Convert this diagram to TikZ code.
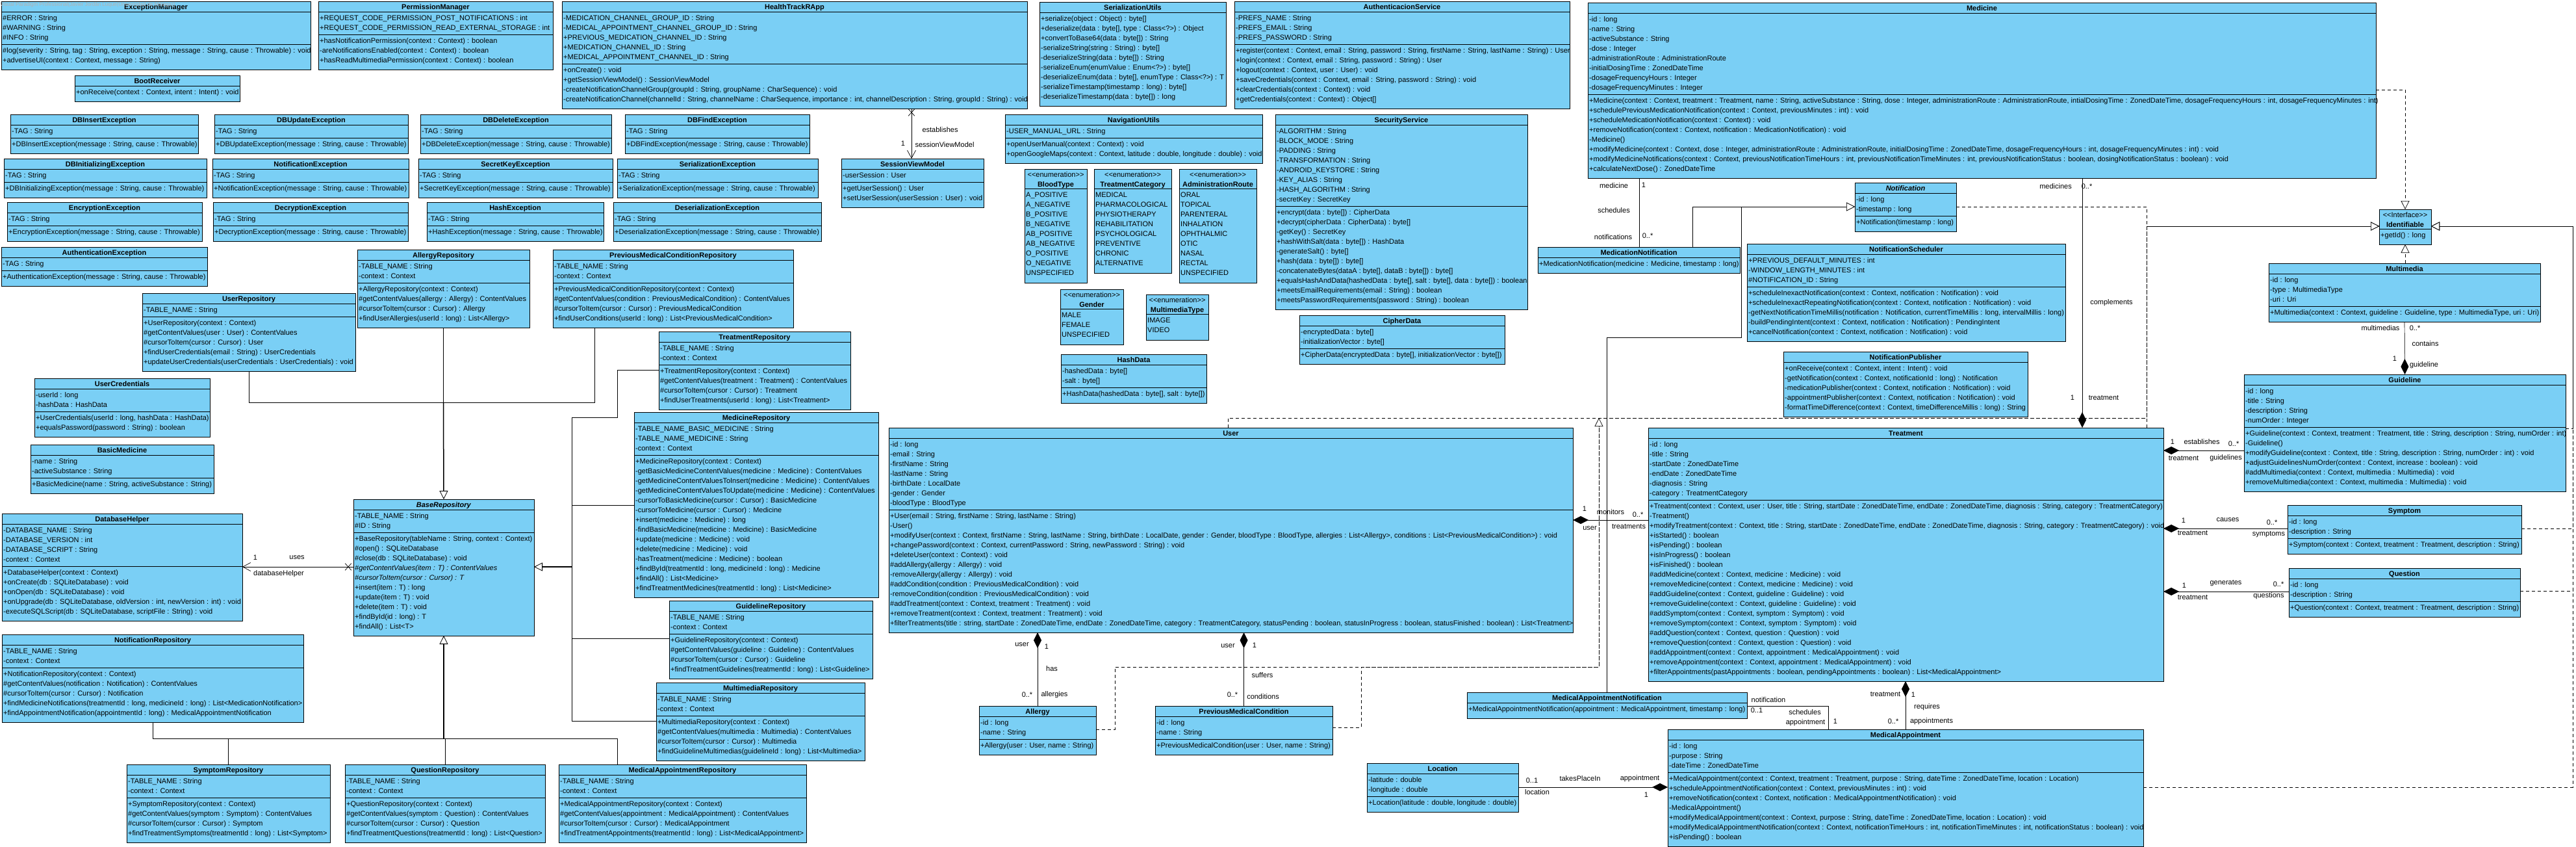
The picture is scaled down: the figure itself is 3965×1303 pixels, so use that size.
\documentclass[tikz,border=0pt]{standalone}
\usepackage{fontspec}
\setmainfont{Liberation Sans}
\usetikzlibrary{arrows.meta,calc,shapes.misc}
\definecolor{classfill}{RGB}{122,207,245}

% [title height]{name}{x,y}{width}{#attributes}{#operations}{title}{attributes}{operations}
\newcommand{\umlclass}[9][16]{%
  \pgfmathtruncatemacro{\clsnA}{#5}%
  \pgfmathtruncatemacro{\clsnM}{#6}%
  \pgfmathtruncatemacro{\clshA}{\clsnA==0 ? 0 : (\clsnM==0 ? \clsnA*15+10 : \clsnA*15+5)}%
  \pgfmathtruncatemacro{\clshM}{\clsnM==0 ? 0 : \clsnM*15+9}%
  \pgfmathtruncatemacro{\clshAll}{#1+\clshA+\clshM}%
  \node[classbox, minimum width=#4, minimum height=\clshAll, anchor=north west] (#2) at (#3) {};
  \node[classtitle, anchor=north] (#2-t) at ($(#2.north)+(0,1.5)$) {\rule{0pt}{10.5pt}#7};
  \draw[classline] ($(#2.north west)+(0,#1)$) -- ($(#2.north east)+(0,#1)$);
  \ifnum\clsnA>0
    \node[classtext, anchor=north west] (#2-a) at ($(#2.north west)+(2,#1+3)$) {\rule{0pt}{10.5pt}#8};
    \ifnum\clsnM>0
      \draw[classline] ($(#2.north west)+(0,#1+\clshA)$) -- ($(#2.north east)+(0,#1+\clshA)$);
    \fi
  \fi
  \ifnum\clsnM>0
    \node[classtext, anchor=north west] (#2-m) at ($(#2.north west)+(2,#1+\clshA+3)$) {\rule{0pt}{10.5pt}#9};
  \fi
}
\newcommand{\umlexc}[3]{\umlclass{#1}{#2}{#3}{1}{1}{#1}{-TAG : String}{+#1(message : String, cause : Throwable)}}
\newcommand{\stereo}[1]{{\mdseries <{}<#1>{}>}}

\begin{document}
\begin{tikzpicture}[x=1pt, y=-1pt,
  classbox/.style={rectangle, draw, fill=classfill, line width=0.8pt, inner sep=0pt, outer sep=0pt},
  classline/.style={line width=0.8pt},
  classtitle/.style={inner sep=0pt, align=center, font=\fontsize{11}{15}\selectfont\bfseries},
  classtext/.style={inner sep=0pt, align=left, font=\fontsize{11}{15}\selectfont},
  lbl/.style={inner sep=0pt, font=\fontsize{11}{13}\selectfont},
  link/.style={line width=0.7pt},
  gen/.style={link, -{Triangle[length=13pt, width=13pt, fill=white]}},
  trunk/.style={line width=1.5pt, -{Triangle[length=13pt, width=13pt, fill=white, line width=0.8pt]}},
  real/.style={gen, dash pattern=on 5pt off 4pt},
  compo/.style={link, -{Diamond[length=24pt, width=12pt]}},
  navig/.style={link, -{Straight Barb[length=12pt, width=13pt]}},
  xmark/.style={cross out, draw, line width=0.7pt, minimum width=9pt, minimum height=10pt, inner sep=0pt}]

\fill[white] (0,0) rectangle (3965,1303);
\useasboundingbox (0,0) rectangle (3965,1303);

% top row
\umlclass{ExceptionManager}{2,2}{476}{3}{2}{ExceptionManager}
  {\#ERROR : String\\\#WARNING : String\\\#INFO : String}
  {\#log(severity : String, tag : String, exception : String, message : String, cause : Throwable) : void\\+advertiseUI(context : Context, message : String)}
\umlclass{PermissionManager}{490,2}{361}{2}{3}{PermissionManager}
  {+REQUEST\_CODE\_PERMISSION\_POST\_NOTIFICATIONS : int\\+REQUEST\_CODE\_PERMISSION\_READ\_EXTERNAL\_STORAGE : int}
  {+hasNotificationPermission(context : Context) : boolean\\-areNotificationsEnabled(context : Context) : boolean\\+hasReadMultimediaPermission(context : Context) : boolean}
\umlclass{HealthTrackRApp}{865,2}{716}{5}{4}{HealthTrackRApp}
  {-MEDICATION\_CHANNEL\_GROUP\_ID : String\\-MEDICAL\_APPOINTMENT\_CHANNEL\_GROUP\_ID : String\\+PREVIOUS\_MEDICATION\_CHANNEL\_ID : String\\+MEDICATION\_CHANNEL\_ID : String\\+MEDICAL\_APPOINTMENT\_CHANNEL\_ID : String}
  {+onCreate() : void\\+getSessionViewModel() : SessionViewModel\\-createNotificationChannelGroup(groupId : String, groupName : CharSequence) : void\\-createNotificationChannel(channelId : String, channelName : CharSequence, importance : int, channelDescription : String, groupId : String) : void}
\umlclass{SerializationUtils}{1600,3}{287}{0}{9}{SerializationUtils}{}
  {+serialize(object : Object) : byte[]\\+deserialize(data : byte[], type : Class<?>) : Object\\+convertToBase64(data : byte[]) : String\\-serializeString(string : String) : byte[]\\-deserializeString(data : byte[]) : String\\-serializeEnum(enumValue : Enum<?>) : byte[]\\-deserializeEnum(data : byte[], enumType : Class<?>) : T\\-serializeTimestamp(timestamp : long) : byte[]\\-deserializeTimestamp(data : byte[]) : long}
\umlclass{AuthenticacionService}{1900,2}{516}{3}{6}{AuthenticacionService}
  {-PREFS\_NAME : String\\-PREFS\_EMAIL : String\\-PREFS\_PASSWORD : String}
  {+register(context : Context, email : String, password : String, firstName : String, lastName : String) : User\\+login(context : Context, email : String, password : String) : User\\+logout(context : Context, user : User) : void\\+saveCredentials(context : Context, email : String, password : String) : void\\+clearCredentials(context : Context) : void\\+getCredentials(context : Context) : Object[]}
\umlclass{Medicine}{2444,4}{1213}{8}{8}{Medicine}
  {-id : long\\-name : String\\-activeSubstance : String\\-dose : Integer\\-administrationRoute : AdministrationRoute\\-initialDosingTime : ZonedDateTime\\-dosageFrequencyHours : Integer\\-dosageFrequencyMinutes : Integer}
  {+Medicine(context : Context, treatment : Treatment, name : String, activeSubstance : String, dose : Integer, administrationRoute : AdministrationRoute, intialDosingTime : ZonedDateTime, dosageFrequencyHours : int, dosageFrequencyMinutes : int)\\+schedulePreviousMedicationNotification(context : Context, previousMinutes : int) : void\\+scheduleMedicationNotification(context : Context) : void\\+removeNotification(context : Context, notification : MedicationNotification) : void\\-Medicine()\\+modifyMedicine(context : Context, dose : Integer, administrationRoute : AdministrationRoute, initialDosingTime : ZonedDateTime, dosageFrequencyHours : int, dosageFrequencyMinutes : int) : void\\+modifyMedicineNotifications(context : Context, previousNotificationTimeHours : int, previousNotificationTimeMinutes : int, previousNotificationStatus : boolean, dosingNotificationStatus : boolean) : void\\+calculateNextDose() : ZonedDateTime}
\umlclass{BootReceiver}{115,116}{254}{0}{1}{BootReceiver}{}
  {+onReceive(context : Context, intent : Intent) : void}

% exceptions
\umlexc{DBInsertException}{16,176}{289}
\umlexc{DBUpdateException}{330,176}{298}
\umlexc{DBDeleteException}{647,176}{294}
\umlexc{DBFindException}{962,176}{284}
\umlexc{DBInitializingException}{6,244}{312}
\umlexc{NotificationException}{327,244}{302}
\umlexc{SecretKeyException}{644,244}{299}
\umlexc{SerializationException}{950,244}{309}
\umlexc{EncryptionException}{11,311}{300}
\umlexc{DecryptionException}{328,311}{300}
\umlexc{HashException}{657,311}{272}
\umlexc{DeserializationException}{944,311}{320}
\umlexc{AuthenticationException}{2,380}{317}

\umlclass{SessionViewModel}{1295,244}{219}{1}{2}{SessionViewModel}
  {-userSession : User}
  {+getUserSession() : User\\+setUserSession(userSession : User) : void}
\umlclass{NavigationUtils}{1547,176}{396}{1}{2}{NavigationUtils}
  {-USER\_MANUAL\_URL : String}
  {+openUserManual(context : Context) : void\\+openGoogleMaps(context : Context, latitude : double, longitude : double) : void}
\umlclass[30]{BloodType}{1577,260}{96}{9}{0}{\stereo{enumeration}\\BloodType}
  {A\_POSITIVE\\A\_NEGATIVE\\B\_POSITIVE\\B\_NEGATIVE\\AB\_POSITIVE\\AB\_NEGATIVE\\O\_POSITIVE\\O\_NEGATIVE\\UNSPECIFIED}{}
\umlclass[30]{TreatmentCategory}{1684,260}{119}{8}{0}{\stereo{enumeration}\\TreatmentCategory}
  {MEDICAL\\PHARMACOLOGICAL\\PHYSIOTHERAPY\\REHABILITATION\\PSYCHOLOGICAL\\PREVENTIVE\\CHRONIC\\ALTERNATIVE}{}
\umlclass[30]{AdministrationRoute}{1815,260}{119}{9}{0}{\stereo{enumeration}\\AdministrationRoute}
  {ORAL\\TOPICAL\\PARENTERAL\\INHALATION\\OPHTHALMIC\\OTIC\\NASAL\\RECTAL\\UNSPECIFIED}{}
\umlclass[30]{Gender}{1632,445}{97}{3}{0}{\stereo{enumeration}\\Gender}
  {MALE\\FEMALE\\UNSPECIFIED}{}
\umlclass[30]{MultimediaType}{1764,453}{96}{2}{0}{\stereo{enumeration}\\MultimediaType}
  {IMAGE\\VIDEO}{}
\umlclass{HashData}{1633,545}{224}{2}{1}{HashData}
  {-hashedData : byte[]\\-salt : byte[]}
  {+HashData(hashedData : byte[], salt : byte[])}
\umlclass{SecurityService}{1963,176}{388}{8}{10}{SecurityService}
  {-ALGORITHM : String\\-BLOCK\_MODE : String\\-PADDING : String\\-TRANSFORMATION : String\\-ANDROID\_KEYSTORE : String\\-KEY\_ALIAS : String\\-HASH\_ALGORITHM : String\\-secretKey : SecretKey}
  {+encrypt(data : byte[]) : CipherData\\+decrypt(cipherData : CipherData) : byte[]\\-getKey() : SecretKey\\+hashWithSalt(data : byte[]) : HashData\\-generateSalt() : byte[]\\+hash(data : byte[]) : byte[]\\-concatenateBytes(dataA : byte[], dataB : byte[]) : byte[]\\+equalsHashAndData(hashedData : byte[], salt : byte[], data : byte[]) : boolean\\+meetsEmailRequirements(email : String) : boolean\\+meetsPasswordRequirements(password : String) : boolean}
\umlclass{CipherData}{2000,485}{316}{2}{1}{CipherData}
  {-encryptedData : byte[]\\-initializationVector : byte[]}
  {+CipherData(encryptedData : byte[], initializationVector : byte[])}

% notifications
\umlclass{Notification}{2855,281}{156}{2}{1}{\textit{Notification}}
  {-id : long\\-timestamp : long}
  {+Notification(timestamp : long)}
\umlclass{MedicationNotification}{2367,380}{311}{0}{1}{MedicationNotification}{}
  {+MedicationNotification(medicine : Medicine, timestamp : long)}
\umlclass{NotificationScheduler}{2689,375}{490}{3}{5}{NotificationScheduler}
  {+PREVIOUS\_DEFAULT\_MINUTES : int\\-WINDOW\_LENGTH\_MINUTES : int\\\#NOTIFICATION\_ID : String}
  {+scheduleInexactNotification(context : Context, notification : Notification) : void\\+scheduleInexactRepeatingNotification(context : Context, notification : Notification) : void\\-getNextNotificationTimeMillis(notification : Notification, currentTimeMillis : long, intervalMillis : long)\\-buildPendingIntent(context : Context, notification : Notification) : PendingIntent\\+cancelNotification(context : Context, notification : Notification) : void}
\umlclass{NotificationPublisher}{2745,541}{376}{0}{5}{NotificationPublisher}{}
  {+onReceive(context : Context, intent : Intent) : void\\-getNotification(context : Context, notificationId : long) : Notification\\-medicationPublisher(context : Context, notification : Notification) : void\\-appointmentPublisher(context : Context, notification : Notification) : void\\-formatTimeDifference(context : Context, timeDifferenceMillis : long) : String}
\umlclass[30]{Identifiable}{3662,322}{80}{0}{1}{\stereo{Interface}\\Identifiable}{}
  {+getId() : long}
\umlclass{Multimedia}{3492,405}{418}{3}{1}{Multimedia}
  {-id : long\\-type : MultimediaType\\-uri : Uri}
  {+Multimedia(context : Context, guideline : Guideline, type : MultimediaType, uri : Uri)}

% repositories
\umlclass{AllergyRepository}{550,384}{265}{2}{4}{AllergyRepository}
  {-TABLE\_NAME : String\\-context : Context}
  {+AllergyRepository(context : Context)\\\#getContentValues(allergy : Allergy) : ContentValues\\\#cursorToItem(cursor : Cursor) : Allergy\\+findUserAllergies(userId : long) : List<Allergy>}
\umlclass{PreviousMedicalConditionRepository}{851,384}{370}{2}{4}{PreviousMedicalConditionRepository}
  {-TABLE\_NAME : String\\-context : Context}
  {+PreviousMedicalConditionRepository(context : Context)\\\#getContentValues(condition : PreviousMedicalCondition) : ContentValues\\\#cursorToItem(cursor : Cursor) : PreviousMedicalCondition\\+findUserConditions(userId : long) : List<PreviousMedicalCondition>}
\umlclass{UserRepository}{219,451}{328}{1}{5}{UserRepository}
  {-TABLE\_NAME : String}
  {+UserRepository(context : Context)\\\#getContentValues(user : User) : ContentValues\\\#cursorToItem(cursor : Cursor) : User\\+findUserCredentials(email : String) : UserCredentials\\+updateUserCredentials(userCredentials : UserCredentials) : void}
\umlclass{UserCredentials}{53,582}{270}{2}{2}{UserCredentials}
  {-userId : long\\-hashData : HashData}
  {+UserCredentials(userId : long, hashData : HashData)\\+equalsPassword(password : String) : boolean}
\umlclass{BasicMedicine}{47,684}{282}{2}{1}{BasicMedicine}
  {-name : String\\-activeSubstance : String}
  {+BasicMedicine(name : String, activeSubstance : String)}
\umlclass{DatabaseHelper}{3,790}{370}{4}{5}{DatabaseHelper}
  {-DATABASE\_NAME : String\\-DATABASE\_VERSION : int\\-DATABASE\_SCRIPT : String\\-context : Context}
  {+DatabaseHelper(context : Context)\\+onCreate(db : SQLiteDatabase) : void\\+onOpen(db : SQLiteDatabase) : void\\+onUpgrade(db : SQLiteDatabase, oldVersion : int, newVersion : int) : void\\-executeSQLScript(db : SQLiteDatabase, scriptFile : String) : void}
\umlclass{BaseRepository}{544,768}{278}{2}{10}{\textit{BaseRepository}}
  {-TABLE\_NAME : String\\\#ID : String}
  {+BaseRepository(tableName : String, context : Context)\\\#open() : SQLiteDatabase\\\#close(db : SQLiteDatabase) : void\\\textit{\#getContentValues(item : T) : ContentValues}\\\textit{\#cursorToItem(cursor : Cursor) : T}\\+insert(item : T) : long\\+update(item : T) : void\\+delete(item : T) : void\\+findById(id : long) : T\\+findAll() : List<T>}
\umlclass{TreatmentRepository}{1014,510}{295}{2}{4}{TreatmentRepository}
  {-TABLE\_NAME : String\\-context : Context}
  {+TreatmentRepository(context : Context)\\\#getContentValues(treatment : Treatment) : ContentValues\\\#cursorToItem(cursor : Cursor) : Treatment\\+findUserTreatments(userId : long) : List<Treatment>}
\umlclass{MedicineRepository}{976,634}{376}{3}{14}{MedicineRepository}
  {-TABLE\_NAME\_BASIC\_MEDICINE : String\\-TABLE\_NAME\_MEDICINE : String\\-context : Context}
  {+MedicineRepository(context : Context)\\-getBasicMedicineContentValues(medicine : Medicine) : ContentValues\\-getMedicineContentValuesToInsert(medicine : Medicine) : ContentValues\\-getMedicineContentValuesToUpdate(medicine : Medicine) : ContentValues\\-cursorToBasicMedicine(cursor : Cursor) : BasicMedicine\\-cursorToMedicine(cursor : Cursor) : Medicine\\+insert(medicine : Medicine) : long\\-findBasicMedicine(medicine : Medicine) : BasicMedicine\\+update(medicine : Medicine) : void\\+delete(medicine : Medicine) : void\\-hasTreatment(medicine : Medicine) : boolean\\+findById(treatmentId : long, medicineId : long) : Medicine\\+findAll() : List<Medicine>\\+findTreatmentMedicines(treatmentId : long) : List<Medicine>}
\umlclass{GuidelineRepository}{1030,924}{313}{2}{4}{GuidelineRepository}
  {-TABLE\_NAME : String\\-context : Context}
  {+GuidelineRepository(context : Context)\\\#getContentValues(guideline : Guideline) : ContentValues\\\#cursorToItem(cursor : Cursor) : Guideline\\+findTreatmentGuidelines(treatmentId : long) : List<Guideline>}
\umlclass{MultimediaRepository}{1010,1050}{321}{2}{4}{MultimediaRepository}
  {-TABLE\_NAME : String\\-context : Context}
  {+MultimediaRepository(context : Context)\\\#getContentValues(multimedia : Multimedia) : ContentValues\\\#cursorToItem(cursor : Cursor) : Multimedia\\+findGuidelineMultimedias(guidelineId : long) : List<Multimedia>}
\umlclass{NotificationRepository}{3,976}{464}{2}{5}{NotificationRepository}
  {-TABLE\_NAME : String\\-context : Context}
  {+NotificationRepository(context : Context)\\\#getContentValues(notification : Notification) : ContentValues\\\#cursorToItem(cursor : Cursor) : Notification\\+findMedicineNotifications(treatmentId : long, medicineId : long) : List<MedicationNotification>\\+findAppointmentNotification(appointmentId : long) : MedicalAppointmentNotification}
\umlclass{SymptomRepository}{195,1176}{313}{2}{4}{SymptomRepository}
  {-TABLE\_NAME : String\\-context : Context}
  {+SymptomRepository(context : Context)\\\#getContentValues(symptom : Symptom) : ContentValues\\\#cursorToItem(cursor : Cursor) : Symptom\\+findTreatmentSymptoms(treatmentId : long) : List<Symptom>}
\umlclass{QuestionRepository}{531,1176}{308}{2}{4}{QuestionRepository}
  {-TABLE\_NAME : String\\-context : Context}
  {+QuestionRepository(context : Context)\\\#getContentValues(symptom : Question) : ContentValues\\\#cursorToItem(cursor : Cursor) : Question\\+findTreatmentQuestions(treatmentId : long) : List<Question>}
\umlclass{MedicalAppointmentRepository}{860,1176}{381}{2}{4}{MedicalAppointmentRepository}
  {-TABLE\_NAME : String\\-context : Context}
  {+MedicalAppointmentRepository(context : Context)\\\#getContentValues(appointment : MedicalAppointment) : ContentValues\\\#cursorToItem(cursor : Cursor) : MedicalAppointment\\+findTreatmentAppointments(treatmentId : long) : List<MedicalAppointment>}

% domain
\umlclass{User}{1368,658}{1053}{7}{12}{User}
  {-id : long\\-email : String\\-firstName : String\\-lastName : String\\-birthDate : LocalDate\\-gender : Gender\\-bloodType : BloodType}
  {+User(email : String, firstName : String, lastName : String)\\-User()\\+modifyUser(context : Context, firstName : String, lastName : String, birthDate : LocalDate, gender : Gender, bloodType : BloodType, allergies : List<Allergy>, conditions : List<PreviousMedicalCondition>) : void\\+changePassword(context : Context, currentPassword : String, newPassword : String) : void\\+deleteUser(context : Context) : void\\\#addAllergy(allergy : Allergy) : void\\-removeAllergy(allergy : Allergy) : void\\\#addCondition(condition : PreviousMedicalCondition) : void\\-removeCondition(condition : PreviousMedicalCondition) : void\\\#addTreatment(context : Context, treatment : Treatment) : void\\+removeTreatment(context : Context, treatment : Treatment) : void\\+filterTreatments(title : string, startDate : ZonedDateTime, endDate : ZonedDateTime, category : TreatmentCategory, statusPending : boolean, statusInProgress : boolean, statusFinished : boolean) : List<Treatment>}
\umlclass{Treatment}{2537,658}{793}{6}{18}{Treatment}
  {-id : long\\-title : String\\-startDate : ZonedDateTime\\-endDate : ZonedDateTime\\-diagnosis : String\\-category : TreatmentCategory}
  {+Treatment(context : Context, user : User, title : String, startDate : ZonedDateTime, endDate : ZonedDateTime, diagnosis : String, category : TreatmentCategory)\\-Treatment()\\+modifyTreatment(context : Context, title : String, startDate : ZonedDateTime, endDate : ZonedDateTime, diagnosis : String, category : TreatmentCategory) : void\\+isStarted() : boolean\\+isPending() : boolean\\+isInProgress() : boolean\\+isFinished() : boolean\\\#addMedicine(context : Context, medicine : Medicine) : void\\+removeMedicine(context : Context, medicine : Medicine) : void\\\#addGuideline(context : Context, guideline : Guideline) : void\\+removeGuideline(context : Context, guideline : Guideline) : void\\\#addSymptom(context : Context, symptom : Symptom) : void\\+removeSymptom(context : Context, symptom : Symptom) : void\\\#addQuestion(context : Context, question : Question) : void\\+removeQuestion(context : Context, question : Question) : void\\\#addAppointment(context : Context, appointment : MedicalAppointment) : void\\+removeAppointment(context : Context, appointment : MedicalAppointment) : void\\+filterAppointments(pastAppointments : boolean, pendingAppointments : boolean) : List<MedicalAppointment>}
\umlclass{Guideline}{3454,576}{495}{4}{6}{Guideline}
  {-id : long\\-title : String\\-description : String\\-numOrder : Integer}
  {+Guideline(context : Context, treatment : Treatment, title : String, description : String, numOrder : int)\\-Guideline()\\+modifyGuideline(context : Context, title : String, description : String, numOrder : int) : void\\+adjustGuidelinesNumOrder(context : Context, increase : boolean) : void\\\#addMultimedia(context : Context, multimedia : Multimedia) : void\\+removeMultimedia(context : Context, multimedia : Multimedia) : void}
\umlclass{Symptom}{3521,777}{360}{2}{1}{Symptom}
  {-id : long\\-description : String}
  {+Symptom(context : Context, treatment : Treatment, description : String)}
\umlclass{Question}{3523,874}{356}{2}{1}{Question}
  {-id : long\\-description : String}
  {+Question(context : Context, treatment : Treatment, description : String)}
\umlclass{Allergy}{1507,1086}{180}{2}{1}{Allergy}
  {-id : long\\-name : String}
  {+Allergy(user : User, name : String)}
\umlclass{PreviousMedicalCondition}{1778,1086}{273}{2}{1}{PreviousMedicalCondition}
  {-id : long\\-name : String}
  {+PreviousMedicalCondition(user : User, name : String)}
\umlclass{MedicalAppointmentNotification}{2258,1065}{431}{0}{1}{MedicalAppointmentNotification}{}
  {+MedicalAppointmentNotification(appointment : MedicalAppointment, timestamp : long)}
\umlclass{Location}{2104,1174}{233}{2}{1}{Location}
  {-latitude : double\\-longitude : double}
  {+Location(latitude : double, longitude : double)}
\umlclass{MedicalAppointment}{2567,1122}{732}{3}{7}{MedicalAppointment}
  {-id : long\\-purpose : String\\-dateTime : ZonedDateTime}
  {+MedicalAppointment(context : Context, treatment : Treatment, purpose : String, dateTime : ZonedDateTime, location : Location)\\+scheduleAppointmentNotification(context : Context, previousMinutes : int) : void\\+removeNotification(context : Context, notification : MedicalAppointmentNotification) : void\\-MedicalAppointment()\\+modifyMedicalAppointment(context : Context, purpose : String, dateTime : ZonedDateTime, location : Location) : void\\+modifyMedicalAppointmentNotification(context : Context, notificationTimeHours : int, notificationTimeMinutes : int, notificationStatus : boolean) : void\\+isPending() : boolean}

% repository hierarchy
\draw[link] (UserRepository.south) -- (UserRepository.south |- 0,619) -- (915,619) -- (915,0 |- PreviousMedicalConditionRepository.south);
\draw[link] (AllergyRepository.south) -- (AllergyRepository.south |- 0,619);
\draw[trunk] (AllergyRepository.south |- 0,619) -- (BaseRepository.north);
\draw[link] (TreatmentRepository.west |- 0,569) -| (950,642) -- (880,642) -- (880,1109) -- (MultimediaRepository.west |- 0,1109);
\draw[link] (880,777) -- (MedicineRepository.west |- 0,777);
\draw[link] (880,982) -- (GuidelineRepository.west |- 0,982);
\draw[trunk] (880,872) -- (BaseRepository.east |- 0,872);
\draw[link] (NotificationRepository.south) |- (950,1136) -- (950,0 |- MedicalAppointmentRepository.north);
\draw[link] (SymptomRepository.north) -- (SymptomRepository.north |- 0,1136);
\draw[link] (QuestionRepository.north) -- (QuestionRepository.north |- 0,1136);
\draw[trunk] (BaseRepository.south |- 0,1136) -- (BaseRepository.south);

% associations
\draw[navig] (BaseRepository.west |- 0,872) -- (DatabaseHelper.east |- 0,872);
\node[xmark] (dbx) at (536,872) {};
\draw[navig] (1403,0 |- HealthTrackRApp.south) -- (1403,0 |- SessionViewModel.north);
\node[xmark] (appx) at (1403,173) {};
\draw[link] (2523,0 |- Medicine.south) -- (2523,0 |- MedicationNotification.north);
\draw[link] (MedicalAppointmentNotification.east |- 0,1086) -| (MedicalAppointment.north -| 2814,0);
\draw[compo] (Treatment.west |- 0,800) -- (User.east |- 0,800);
\draw[compo] (Allergy.north) -- (Allergy.north |- User.south);
\draw[compo] (PreviousMedicalCondition.north) -- (PreviousMedicalCondition.north |- User.south);
\draw[compo] (3205,0 |- Medicine.south) -- (3205,0 |- Treatment.north);
\draw[compo] (Guideline.west |- 0,693) -- (Treatment.east |- 0,693);
\draw[compo] (Symptom.west |- 0,813) -- (Treatment.east |- 0,813);
\draw[compo] (Question.west |- 0,910) -- (Treatment.east |- 0,910);
\draw[compo] (2933,0 |- MedicalAppointment.north) -- (2933,0 |- Treatment.south);
\draw[compo] (Multimedia.south) -- (Guideline.north);
\draw[compo] (Location.east |- 0,1211) -- (MedicalAppointment.west |- 0,1211);

% generalization and realization
\draw[gen] (2605,0 |- MedicationNotification.north) |- (Notification.west |- 0,318);
\draw[gen] (2473,0 |- MedicalAppointmentNotification.north) |- (2680,519) |- (Notification.west |- 0,318);
\draw[real] (Notification.east |- 0,318) -| (3304,348) -- (Identifiable.west |- 0,348);
\draw[real] (3304,0 |- Treatment.north) |- (Identifiable.west |- 0,348);
\draw[real] (1890,0 |- User.north) |- (3304,643) |- (Identifiable.west |- 0,348);
\draw[real] (Allergy.east |- 0,1122) -| (1716,1026) -| (2461,643) -| (3304,348) -- (Identifiable.west |- 0,348);
\draw[real] (PreviousMedicalCondition.east |- 0,1119) -| (2095,1026) -| (2461,643);
\draw[real] (Medicine.east |- 0,138) -| (Identifiable.north);
\draw[real] (Identifiable.south |- Multimedia.north) -- (Identifiable.south);
\draw[real] (Guideline.east |- 0,659) -| (3960,348) -- (Identifiable.east |- 0,348);
\draw[real] (Symptom.east |- 0,813) -| (3960,348) -- (Identifiable.east |- 0,348);
\draw[real] (Question.east |- 0,909) -| (3960,348) -- (Identifiable.east |- 0,348);
\draw[real] (MedicalAppointment.east |- 0,1211) -| (3960,348) -- (Identifiable.east |- 0,348);

% association labels
\node[lbl] (l-app-name) at (1447,200) {establishes};
\node[lbl] (l-app-m) at (1390,221) {1};
\node[lbl] (l-app-r) at (1454,223) {sessionViewModel};
\node[lbl] (l-db-m) at (393,858) {1};
\node[lbl] (l-db-name) at (457,858) {uses};
\node[lbl] (l-db-r) at (429,883) {databaseHelper};
\node[lbl] (l-mn-r1) at (2484,286) {medicine};
\node[lbl] (l-mn-m1) at (2530,285) {1};
\node[lbl] (l-mn-name) at (2484,324) {schedules};
\node[lbl] (l-mn-r2) at (2483,365) {notifications};
\node[lbl] (l-mn-m2) at (2536,363) {0..*};
\node[lbl] (l-tm-r1) at (3164,287) {medicines};
\node[lbl] (l-tm-m1) at (3212,287) {0..*};
\node[lbl] (l-tm-name) at (3250,466) {complements};
\node[lbl] (l-tm-m2) at (3190,612) {1};
\node[lbl] (l-tm-r2) at (3238,612) {treatment};
\node[lbl] (l-gm-r1) at (3664,505) {multimedias};
\node[lbl] (l-gm-m1) at (3717,505) {0..*};
\node[lbl] (l-gm-name) at (3733,529) {contains};
\node[lbl] (l-gm-m2) at (3686,552) {1};
\node[lbl] (l-gm-r2) at (3731,562) {guideline};
\node[lbl] (l-tg-m1) at (3344,680) {1};
\node[lbl] (l-tg-name) at (3389,680) {establishes};
\node[lbl] (l-tg-m2) at (3438,683) {0..*};
\node[lbl] (l-tg-r1) at (3361,705) {treatment};
\node[lbl] (l-tg-r2) at (3426,705) {guidelines};
\node[lbl] (l-ts-m1) at (3361,801) {1};
\node[lbl] (l-ts-name) at (3429,800) {causes};
\node[lbl] (l-ts-m2) at (3497,804) {0..*};
\node[lbl] (l-ts-r1) at (3375,820) {treatment};
\node[lbl] (l-ts-r2) at (3492,822) {symptoms};
\node[lbl] (l-tq-m1) at (3362,901) {1};
\node[lbl] (l-tq-name) at (3426,897) {generates};
\node[lbl] (l-tq-m2) at (3507,899) {0..*};
\node[lbl] (l-tq-r1) at (3375,919) {treatment};
\node[lbl] (l-tq-r2) at (3492,917) {questions};
\node[lbl] (l-ut-m1) at (2439,783) {1};
\node[lbl] (l-ut-name) at (2479,788) {monitors};
\node[lbl] (l-ut-m2) at (2521,792) {0..*};
\node[lbl] (l-ut-r1) at (2447,813) {user};
\node[lbl] (l-ut-r2) at (2507,810) {treatments};
\node[lbl] (l-ua-r1) at (1573,992) {user};
\node[lbl] (l-ua-m1) at (1611,995) {1};
\node[lbl] (l-ua-name) at (1619,1029) {has};
\node[lbl] (l-ua-m2) at (1581,1069) {0..*};
\node[lbl] (l-ua-r2) at (1623,1069) {allergies};
\node[lbl] (l-uc-r1) at (1890,994) {user};
\node[lbl] (l-uc-m1) at (1931,993) {1};
\node[lbl] (l-uc-name) at (1943,1039) {suffers};
\node[lbl] (l-uc-m2) at (1897,1069) {0..*};
\node[lbl] (l-uc-r2) at (1944,1072) {conditions};
\node[lbl] (l-ta-r1) at (2902,1068) {treatment};
\node[lbl] (l-ta-m1) at (2945,1069) {1};
\node[lbl] (l-ta-name) at (2966,1088) {requires};
\node[lbl] (l-ta-m2) at (2914,1110) {0..*};
\node[lbl] (l-ta-r2) at (2973,1110) {appointments};
\node[lbl] (l-an-r1) at (2722,1077) {notification};
\node[lbl] (l-an-m1) at (2704,1093) {0..1};
\node[lbl] (l-an-name) at (2778,1096) {schedules};
\node[lbl] (l-an-r2) at (2779,1112) {appointment};
\node[lbl] (l-an-m2) at (2825,1110) {1};
\node[lbl] (l-al-m1) at (2358,1201) {0..1};
\node[lbl] (l-al-name) at (2432,1198) {takesPlaceIn};
\node[lbl] (l-al-r2) at (2524,1198) {appointment};
\node[lbl] (l-al-r1) at (2366,1219) {location};
\node[lbl] (l-al-m2) at (2534,1223) {1};

\node[anchor=west, inner sep=0pt, text=black!30, font=\fontsize{8}{9}\selectfont] (watermark) at (0,7) {Visual Paradigm Professional(Javier Jordán Luque(Universidad de Málaga))};
\end{tikzpicture}
\end{document}
